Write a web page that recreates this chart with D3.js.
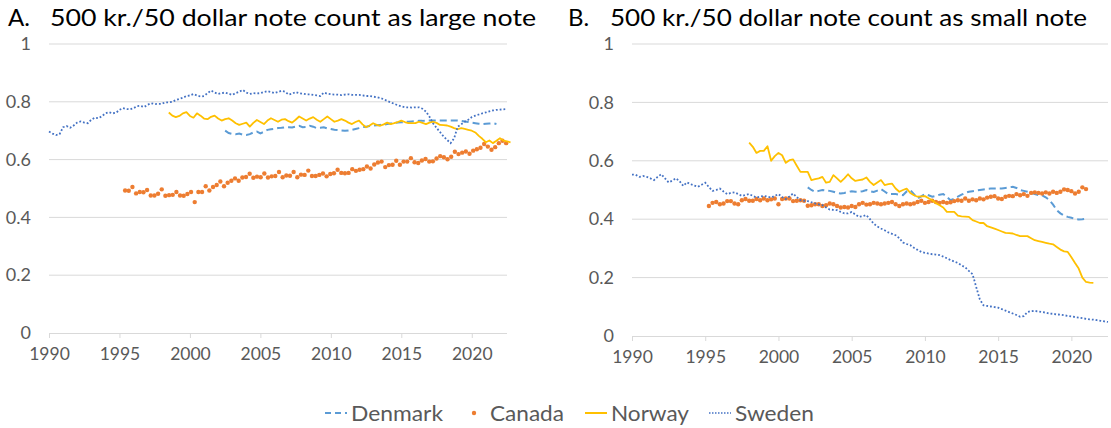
<!DOCTYPE html>
<html>
<head>
<meta charset="utf-8">
<script src="https://cdn.jsdelivr.net/npm/d3@7"></script>
<style>
  body { margin: 0; background: #fff; }
  text { font-family: Lato, "Open Sans", sans-serif; fill: #595959; }
</style>
</head>
<body>
<svg id="chart" width="1111" height="428"></svg>
<script>
// axis ticks
var xTicks = [1990, 1995, 2000, 2005, 2010, 2015, 2020];
var yTicks = [0, 0.2, 0.4, 0.6, 0.8, 1];

var countries = ["Denmark", "Canada", "Norway", "Sweden"];

// Panel A: 500 kr./50 dollar note count as large note (quarterly readings)
var denmarkA = [0.700, 0.692,
  0.689, 0.688, 0.690, 0.686, 0.685, 0.688, 0.694, 0.697, 0.691, 0.696, 0.703, 0.705,
  0.707, 0.709, 0.710, 0.712, 0.712, 0.711, 0.714, 0.717, 0.712, 0.713, 0.717, 0.714,
  0.709, 0.710, 0.712, 0.708, 0.706, 0.703, 0.702, 0.701, 0.700, 0.701, 0.703, 0.706,
  0.709, 0.712, 0.714, 0.716, 0.717, 0.719, 0.720, 0.721, 0.723, 0.725, 0.727, 0.728,
  0.729, 0.730, 0.731, 0.732, 0.733, 0.734, 0.734, 0.735, 0.735, 0.735, 0.735, 0.735,
  0.735, 0.735, 0.735, 0.735, 0.735, 0.734, 0.732, 0.730, 0.728, 0.726, 0.724, 0.723,
  0.724, 0.725, 0.726, 0.723];
var canadaA = [0.493, 0.492, 0.505, 0.483, 0.488, 0.487, 0.495, 0.476, 0.476, 0.482,
  0.497, 0.475, 0.477, 0.478, 0.488, 0.476, 0.475, 0.481, 0.488, 0.453, 0.488, 0.488,
  0.508, 0.493, 0.505, 0.512, 0.524, 0.508, 0.520, 0.527, 0.535, 0.527, 0.538, 0.540,
  0.551, 0.537, 0.541, 0.539, 0.552, 0.538, 0.542, 0.543, 0.557,
  0.539, 0.545, 0.544, 0.557, 0.539, 0.548, 0.547, 0.562, 0.543, 0.543, 0.547, 0.552,
  0.542, 0.550, 0.553, 0.565, 0.554, 0.553, 0.554, 0.567, 0.561, 0.565, 0.567, 0.576,
  0.569, 0.583, 0.590, 0.593, 0.574, 0.581, 0.582, 0.596, 0.582, 0.593, 0.593, 0.605,
  0.591, 0.588, 0.597, 0.602, 0.593, 0.594, 0.604, 0.612, 0.608, 0.601, 0.610, 0.627,
  0.619, 0.624, 0.628, 0.620, 0.631, 0.636, 0.641, 0.654, 0.645, 0.634, 0.643, 0.657,
  0.665, 0.657];
var norwayA = [0.763, 0.752, 0.747,
  0.751, 0.760, 0.764, 0.751, 0.745, 0.760, 0.752, 0.742, 0.740, 0.748, 0.752, 0.742,
  0.735, 0.740, 0.743, 0.735, 0.726, 0.720, 0.724, 0.728, 0.714, 0.727, 0.737, 0.730,
  0.723, 0.735, 0.743, 0.737, 0.731, 0.738, 0.740, 0.733, 0.728, 0.738, 0.749, 0.742,
  0.735, 0.742, 0.747, 0.738, 0.731, 0.740, 0.749, 0.740, 0.731, 0.735, 0.740, 0.735,
  0.728, 0.723, 0.730, 0.735, 0.722, 0.712, 0.718, 0.726, 0.720, 0.717, 0.722, 0.728,
  0.723, 0.726, 0.730, 0.735, 0.730, 0.726, 0.726, 0.726, 0.731, 0.727, 0.723, 0.728,
  0.731, 0.727, 0.720, 0.719, 0.718, 0.714, 0.709, 0.705, 0.709, 0.706, 0.703, 0.700,
  0.694, 0.682, 0.672, 0.660, 0.666, 0.657, 0.665, 0.674, 0.666, 0.663, 0.660];
var swedenA = [0.697, 0.690, 0.685, 0.688, 0.712, 0.716, 0.710, 0.718,
  0.728, 0.732, 0.728, 0.726, 0.738, 0.745, 0.743, 0.750, 0.760, 0.764, 0.760, 0.762,
  0.772, 0.778, 0.775, 0.774, 0.778, 0.785, 0.786, 0.782, 0.790, 0.795, 0.792, 0.793,
  0.793, 0.798, 0.798, 0.800, 0.806, 0.810, 0.814, 0.820, 0.822, 0.827, 0.822, 0.818,
  0.820, 0.830, 0.839, 0.832, 0.827, 0.830, 0.832, 0.828, 0.824, 0.830, 0.835, 0.841,
  0.832, 0.827, 0.830, 0.829, 0.830, 0.834, 0.837, 0.834, 0.830, 0.834, 0.838, 0.835,
  0.825, 0.828, 0.834, 0.830, 0.828, 0.826, 0.826, 0.824, 0.822, 0.820, 0.832, 0.828,
  0.826, 0.825, 0.825, 0.823, 0.825, 0.826, 0.824, 0.824, 0.824, 0.822, 0.820, 0.820,
  0.818, 0.816, 0.813, 0.809, 0.803, 0.798, 0.793, 0.788, 0.784, 0.781, 0.781, 0.780,
  0.781, 0.781, 0.776, 0.766, 0.748, 0.726, 0.710, 0.695, 0.680, 0.668, 0.657, 0.674,
  0.714, 0.722, 0.731, 0.738, 0.747, 0.752, 0.756, 0.760, 0.763, 0.767, 0.770, 0.772,
  0.773, 0.774, 0.775];

// Panel B: 500 kr./50 dollar note count as small note (quarterly readings)
var denmarkB = [0.509, 0.500, 0.494, 0.497, 0.500, 0.498, 0.497, 0.494,
  0.490, 0.488, 0.490, 0.493, 0.496, 0.494, 0.494, 0.496, 0.500, 0.496, 0.493, 0.498,
  0.503, 0.495, 0.486, 0.486, 0.486, 0.484, 0.482, 0.495, 0.500, 0.486, 0.471, 0.478,
  0.486, 0.482, 0.477, 0.480, 0.484, 0.486, 0.476, 0.465, 0.470, 0.477, 0.484, 0.490,
  0.494, 0.496, 0.498, 0.500, 0.502, 0.504, 0.505, 0.505, 0.505, 0.505, 0.507, 0.509,
  0.511, 0.507, 0.500, 0.497, 0.494, 0.490, 0.486, 0.482, 0.482, 0.475, 0.465, 0.450,
  0.431, 0.420, 0.412, 0.408, 0.405, 0.401, 0.399, 0.400, 0.402];
var canadaB = [0.445, 0.456, 0.459, 0.451, 0.454, 0.462, 0.462, 0.454, 0.451, 0.465,
  0.469, 0.463, 0.463, 0.469, 0.465, 0.471, 0.465, 0.468, 0.471, 0.451, 0.469, 0.471,
  0.471, 0.462, 0.463, 0.465, 0.463, 0.446, 0.448, 0.451, 0.451, 0.445, 0.448, 0.454,
  0.451, 0.445, 0.440, 0.442, 0.440, 0.445, 0.442, 0.451, 0.456, 0.450, 0.451,
  0.456, 0.454, 0.451, 0.454, 0.456, 0.459, 0.451, 0.445, 0.451, 0.454, 0.451, 0.454,
  0.459, 0.463, 0.456, 0.459, 0.463, 0.459, 0.456, 0.459, 0.456, 0.458, 0.462, 0.465,
  0.463, 0.471, 0.463, 0.468, 0.465, 0.471, 0.468, 0.474, 0.477, 0.479, 0.471, 0.469,
  0.477, 0.480, 0.479, 0.486, 0.482, 0.486, 0.480, 0.490, 0.492, 0.490, 0.488, 0.492,
  0.488, 0.494, 0.490, 0.494, 0.502, 0.500, 0.496, 0.488, 0.494, 0.509, 0.503];
var norwayB = [0.662, 0.648, 0.627, 0.634, 0.634, 0.650, 0.600, 0.616,
  0.627, 0.619, 0.593, 0.602, 0.605, 0.583, 0.562, 0.562, 0.562, 0.534, 0.537, 0.540,
  0.545, 0.525, 0.528, 0.551, 0.540, 0.528, 0.540, 0.554, 0.540, 0.531, 0.534, 0.536,
  0.543, 0.528, 0.517, 0.526, 0.534, 0.517, 0.520, 0.522, 0.505, 0.494, 0.500, 0.505,
  0.490, 0.482, 0.477, 0.478, 0.479, 0.472, 0.465, 0.455, 0.448, 0.440, 0.425, 0.425,
  0.425, 0.412, 0.410, 0.409, 0.408, 0.397, 0.392, 0.387, 0.387, 0.376, 0.372, 0.368,
  0.363, 0.358, 0.353, 0.352, 0.351, 0.346, 0.342, 0.342, 0.342, 0.335, 0.328, 0.325,
  0.322, 0.319, 0.316, 0.314, 0.305, 0.296, 0.290, 0.288, 0.270, 0.250, 0.231, 0.200,
  0.185, 0.183, 0.182];
var swedenB = [0.553, 0.552, 0.545, 0.548, 0.545, 0.540, 0.534, 0.545,
  0.554, 0.540, 0.526, 0.532, 0.540, 0.530, 0.514, 0.526, 0.520, 0.515, 0.511, 0.518,
  0.525, 0.510, 0.497, 0.500, 0.505, 0.495, 0.486, 0.490, 0.492, 0.486, 0.480, 0.483,
  0.486, 0.480, 0.474, 0.477, 0.480, 0.477, 0.474, 0.480, 0.486, 0.476, 0.469, 0.478,
  0.488, 0.476, 0.465, 0.463, 0.462, 0.458, 0.454, 0.451, 0.448, 0.440, 0.433, 0.432,
  0.431, 0.425, 0.420, 0.420, 0.425, 0.416, 0.408, 0.410, 0.414, 0.400, 0.385, 0.375,
  0.368, 0.362, 0.355, 0.350, 0.345, 0.335, 0.320, 0.315, 0.311, 0.302, 0.295, 0.288,
  0.285, 0.282, 0.280, 0.279, 0.277, 0.272, 0.266, 0.260, 0.255, 0.250, 0.242, 0.235,
  0.223, 0.212, 0.168, 0.125, 0.105, 0.103, 0.101, 0.099, 0.097, 0.092, 0.087, 0.082,
  0.077, 0.072, 0.066, 0.068, 0.082, 0.085, 0.086, 0.084, 0.082, 0.080, 0.077, 0.076,
  0.074, 0.073, 0.071, 0.069, 0.067, 0.065, 0.063, 0.061, 0.059, 0.057, 0.056, 0.054,
  0.052, 0.050, 0.048];

var colors = { Denmark: "#5B9BD5", Canada: "#ED7D31", Norway: "#FFC000", Sweden: "#4472C4" };

var svg = d3.select("#chart");

// turn a list of readings into {t, v} points
function toPoints(values, start, step) {
  return values.map(function(v, i) { return { t: start + i * step, v: v }; });
}

var panels = [
  {
    letter: "A.", title: "500 kr./50 dollar note count as large note",
    left: 49, right: 507, top: 44, bottom: 333, titleX: 8, textX: 50, textW: 486,
    series: {
      Denmark: toPoints(denmarkA, 2002.5, 0.25),
      Canada: toPoints(canadaA, 1995.4, 0.26),
      Norway: toPoints(norwayA, 1998.5, 0.25),
      Sweden: toPoints(swedenA, 1990, 0.25)
    }
  },
  {
    letter: "B.", title: "500 kr./50 dollar note count as small note",
    left: 632, right: 1108, top: 44, bottom: 336, titleX: 568, textX: 610, textW: 477,
    series: {
      Denmark: toPoints(denmarkB, 2002, 0.25),
      Canada: toPoints(canadaB, 1995.25, 0.25),
      Norway: toPoints(norwayB, 1998, 0.25),
      Sweden: toPoints(swedenB, 1990, 0.25)
    }
  }
];

panels.forEach(function(p) {
  var x = d3.scaleLinear().domain([1990, 2022.5]).range([p.left, p.right]);
  var y = d3.scaleLinear().domain([0, 1]).range([p.bottom, p.top]);
  var g = svg.append("g");

  // title
  g.append("text").attr("x", p.titleX).attr("y", 26)
    .style("font-size", "24px").style("fill", "#000").text(p.letter);
  g.append("text").attr("x", p.textX).attr("y", 26)
    .attr("textLength", p.textW).attr("lengthAdjust", "spacingAndGlyphs")
    .style("font-size", "24px").style("fill", "#000").text(p.title);

  // gridlines
  g.selectAll(".grid").data(yTicks.filter(function(d) { return d > 0; }))
    .enter().append("line")
    .attr("x1", p.left).attr("x2", p.right)
    .attr("y1", function(d) { return y(d); }).attr("y2", function(d) { return y(d); })
    .attr("stroke", "#d9d9d9").attr("stroke-width", 1);

  // y axis labels
  var yAxis = d3.axisLeft(y).tickValues(yTicks).tickSize(0).tickPadding(18)
    .tickFormat(d3.format(""));
  var ya = g.append("g").attr("transform", "translate(" + p.left + ",0)").call(yAxis);
  ya.select(".domain").remove();
  ya.selectAll("text").style("font-size", "18px").style("fill", "#595959")
    .style("font-family", "Lato, 'Open Sans', sans-serif");

  // x axis
  var xAxis = d3.axisBottom(x).tickValues(xTicks).tickSize(5).tickPadding(10)
    .tickFormat(d3.format("d"));
  var xa = g.append("g").attr("transform", "translate(0," + p.bottom + ")").call(xAxis);
  xa.select(".domain").attr("stroke", "#d9d9d9").attr("d", "M" + p.left + ",0.5H" + p.right);
  xa.selectAll(".tick line").attr("stroke", "#d9d9d9");
  xa.selectAll("text").style("font-size", "17.5px").style("fill", "#595959")
    .style("font-family", "Lato, 'Open Sans', sans-serif");

  var line = d3.line()
    .x(function(d) { return x(d.t); })
    .y(function(d) { return y(d.v); });

  // Denmark dashed
  g.append("path").datum(p.series.Denmark)
    .attr("d", line).attr("fill", "none")
    .attr("stroke", colors.Denmark).attr("stroke-width", 2)
    .attr("stroke-dasharray", "7,4");

  // Canada markers
  g.selectAll(".canada").data(p.series.Canada)
    .enter().append("circle")
    .attr("cx", function(d) { return x(d.t); })
    .attr("cy", function(d) { return y(d.v); })
    .attr("r", 2.2).attr("fill", colors.Canada);

  // Norway solid
  g.append("path").datum(p.series.Norway)
    .attr("d", line).attr("fill", "none")
    .attr("stroke", colors.Norway).attr("stroke-width", 1.8)
    .attr("stroke-linejoin", "round");

  // Sweden dotted
  g.append("path").datum(p.series.Sweden)
    .attr("d", line).attr("fill", "none")
    .attr("stroke", colors.Sweden).attr("stroke-width", 1.8)
    .attr("stroke-dasharray", "1.8,2");
});

// legend
var legendX = { Denmark: 325, Canada: 466, Norway: 585, Sweden: 709 };
var legendW = { Denmark: 92, Canada: 74, Norway: 78, Sweden: 79 };
var ly = 413;
var lg = svg.append("g");
countries.forEach(function(c) {
  var x0 = legendX[c];
  if (c === "Canada") {
    lg.append("circle").attr("cx", x0 + 8).attr("cy", ly).attr("r", 2.2).attr("fill", colors[c]);
  } else {
    var l = lg.append("line").attr("x1", x0).attr("x2", x0 + 22)
      .attr("y1", ly).attr("y2", ly).attr("stroke", colors[c]);
    if (c === "Denmark") l.attr("stroke-width", 2).attr("stroke-dasharray", "6,4");
    if (c === "Norway") l.attr("stroke-width", 2);
    if (c === "Sweden") l.attr("stroke-width", 1.5).attr("stroke-dasharray", "1.5,1.5");
  }
  lg.append("text").attr("x", x0 + (c === "Canada" ? 24 : 26)).attr("y", ly + 8)
    .attr("textLength", legendW[c]).attr("lengthAdjust", "spacingAndGlyphs")
    .style("font-size", "21px").text(c);
});
</script>
</body>
</html>
